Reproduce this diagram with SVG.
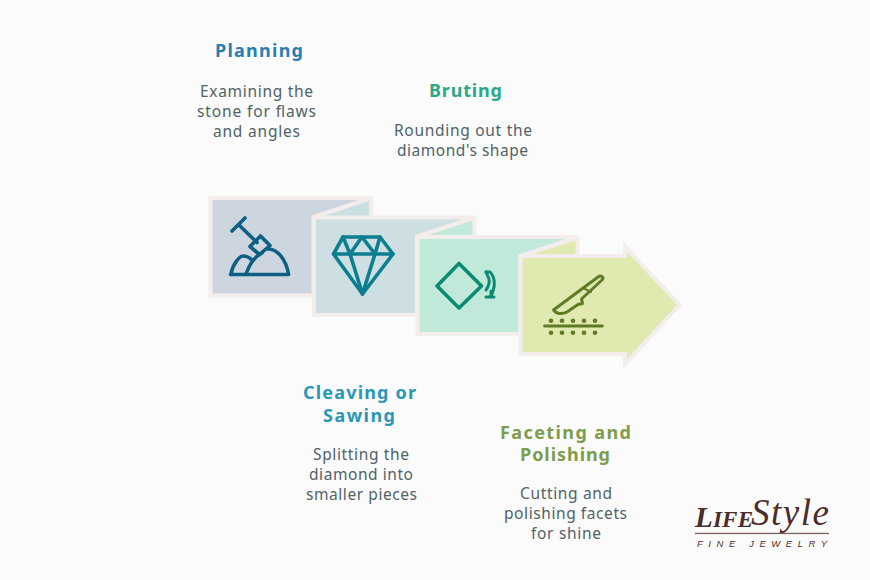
<svg xmlns="http://www.w3.org/2000/svg" width="870" height="580" viewBox="0 0 870 580">
<style>
.t{font-family:"Noto Sans","Open Sans","DejaVu Sans",sans-serif;font-size:18px;font-weight:700;text-anchor:middle}
.b{font-family:"Noto Sans","Open Sans","DejaVu Sans",sans-serif;font-size:15.5px;fill:#50626a;text-anchor:middle}
.p{stroke:#f3eeeb;stroke-width:4;stroke-linejoin:miter}
.i{fill:none;stroke-width:3.600;stroke-linecap:round;stroke-linejoin:round}
.l{fill:#4c2b2a}
</style>
<rect width="870" height="580" fill="#fbfbfb"/>
<g id="connectors"></g>
<g id="node-planning">
<polygon class="p" points="371,198 371,222 312,222 312,217" fill="#c9dfe0"/>
<polygon class="p" points="210.500,198 371,198 313.500,217 313.500,295.500 210.500,295.500" fill="#cdd6de"/>
<g class="i" stroke="#0e5f82">
<path d="M232,231L245,218M238.500,224.500L257,242.500"/>
<path d="M250,246.500L260.500,236L270,245.500L259.500,254.500Z"/>
<path d="M230.500,274.500H288.500"/>
<path d="M246,274C250,263 256,256 262,253M268,249C278,249 286,260 288.500,274"/>
<path d="M231,274C233,263 240,256 243,256C247,256 250,258 252,260"/>
</g>
<text class="t" x="259" y="57" fill="#2a7fae" textLength="88" lengthAdjust="spacing">Planning</text>
<text class="b" x="256.500" y="97" textLength="113" lengthAdjust="spacing">Examining the</text>
<text class="b" x="256.500" y="117" textLength="119" lengthAdjust="spacing">stone for flaws</text>
<text class="b" x="256.500" y="137" textLength="87" lengthAdjust="spacing">and angles</text>
</g>
<g id="node-cleaving">
<polygon class="p" points="474.500,218 474.500,242 416,242 416,236" fill="#c3e8da"/>
<polygon class="p" points="314,217.500 474.500,217.500 417,236.500 417,315 314,315" fill="#cddfe3"/>
<g class="i" stroke="#0b7f90">
<path d="M343,237H380L393,254L362.500,294L333.500,254Z"/>
<path d="M333.500,254H393"/>
<path d="M343,237L350,254L362,237L375,254L380,237"/>
<path d="M350,254L362.500,294L375,254"/>
</g>
<text class="t" x="359.500" y="399" fill="#2a97b5" textLength="113" lengthAdjust="spacing">Cleaving or</text>
<text class="t" x="359" y="422" fill="#2a97b5" textLength="72" lengthAdjust="spacing">Sawing</text>
<text class="b" x="361" y="460" textLength="96" lengthAdjust="spacing">Splitting the</text>
<text class="b" x="361" y="480" textLength="104" lengthAdjust="spacing">diamond into</text>
<text class="b" x="361.500" y="500" textLength="111" lengthAdjust="spacing">smaller pieces</text>
</g>
<g id="node-bruting">
<polygon class="p" points="577.500,238 577.500,262 519,262 519,256" fill="#dfe9b0"/>
<polygon class="p" points="417.500,237 577.500,237 520.500,256 520.500,334 417.500,334" fill="#c0e9da"/>
<g class="i" stroke="#0c8a72">
<path d="M459,263.500L481.500,286L459,308L437,286Z"/>
<g stroke-width="3">
<path d="M486,272H490C495,277 496,286 491,296"/>
<path d="M486,272L489,279C490,283 488,287 486,290"/>
<path d="M486,297H494M491,291V297"/>
</g>
</g>
<text class="t" x="465.500" y="97" fill="#2aa88a" textLength="73" lengthAdjust="spacing">Bruting</text>
<text class="b" x="463" y="136" textLength="138" lengthAdjust="spacing">Rounding out the</text>
<text class="b" x="462.500" y="156" textLength="131" lengthAdjust="spacing">diamond's shape</text>
</g>
<g id="node-faceting">
<polygon class="p" points="520.500,256 625,256 625,246.500 679.500,305 625,364 625,354 520.500,354" fill="#e0e9b0"/>
<g fill="none" stroke="#5f7c25" stroke-width="3" stroke-linejoin="round" stroke-linecap="round">
<path d="M553.500,310L598,277C601,275 604,277 602.500,279.500L581.500,299L582.500,303.500L578,304.500L567,312C562,314.500 556,314 553.500,310Z"/>
<path d="M585,289L591,292" stroke-width="2"/>
<path d="M544.500,326H602.500" stroke-width="2.800"/>
</g>
<g fill="#5f7c25">
<circle cx="551" cy="320.700" r="2.300"/><circle cx="562" cy="320.700" r="2.300"/><circle cx="573" cy="320.700" r="2.300"/><circle cx="584" cy="320.700" r="2.300"/><circle cx="595" cy="320.700" r="2.300"/>
<circle cx="551" cy="332.700" r="2.300"/><circle cx="562" cy="332.700" r="2.300"/><circle cx="573" cy="332.700" r="2.300"/><circle cx="584" cy="332.700" r="2.300"/><circle cx="595" cy="332.700" r="2.300"/>
</g>
<text class="t" x="565.500" y="439" fill="#7d9c4c" textLength="131" lengthAdjust="spacing">Faceting and</text>
<text class="t" x="565" y="461" fill="#7d9c4c" textLength="90" lengthAdjust="spacing">Polishing</text>
<text class="b" x="566" y="499" textLength="92" lengthAdjust="spacing">Cutting and</text>
<text class="b" x="565.500" y="519" textLength="123" lengthAdjust="spacing">polishing facets</text>
<text class="b" x="566" y="539" textLength="70" lengthAdjust="spacing">for shine</text>
</g>
<g id="logo">
<text class="l" x="695" y="527" font-family="'Liberation Serif',serif" font-style="italic" font-weight="700" font-size="23" textLength="58" lengthAdjust="spacing"><tspan font-size="29">L</tspan>IFE</text>
<text class="l" x="751" y="525" font-family="'Liberation Serif',serif" font-style="italic" font-size="37" textLength="78" lengthAdjust="spacing">Style</text>
<rect x="695" y="532.800" width="134" height="1.300" fill="#7d5f5c"/>
<text class="l" x="697" y="547" font-family="'Liberation Sans',sans-serif" font-style="italic" font-size="9.500" textLength="130" lengthAdjust="spacing">FINE JEWELRY</text>
</g>
</svg>
